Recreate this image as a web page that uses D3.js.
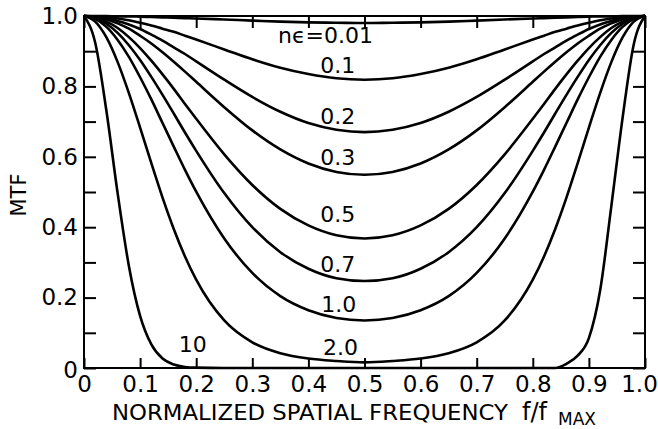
<!DOCTYPE html>
<html>
<head>
<meta charset="utf-8">
<script src="https://cdn.jsdelivr.net/npm/d3@7"></script>
<style>
    body { margin: 0; background: #fff; }
    svg { display: block; font-family: 'DejaVu Sans', sans-serif; }
    .axis line { stroke: #000; stroke-width: 2; }
    .axis path { display: none; }
</style>
</head>
<body>
<div id="chart"></div>
<script>
// normalized spatial frequency f/fmax, shared by every curve
var freq = [0, .02, .04, .06, .08, .10, .12, .14, .16, .18, .20, .25, .30, .35, .40, .45, .50,
            .55, .60, .65, .70, .75, .80, .82, .84, .86, .88, .90, .92, .94, .96, .98, 1];

// MTF, one list per n*epsilon
var mtf_001 = [1, 1, 1, .999, .999, .998, .997, .996, .995, .994, .993, .990, .987, .984, .982, .981, .980,
               .981, .982, .984, .987, .990, .993, .994, .995, .996, .997, .998, .999, .999, 1, 1, 1];
var mtf_01 = [1, .999, .997, .993, .988, .981, .973, .964, .955, .944, .933, .905, .877, .853, .835, .823, .819,
              .823, .835, .853, .877, .905, .933, .944, .955, .964, .973, .981, .988, .993, .997, .999, 1];
var mtf_02 = [1, .998, .994, .986, .976, .963, .947, .930, .911, .892, .871, .819, .770, .728, .696, .677, .670,
              .677, .696, .728, .770, .819, .871, .892, .911, .930, .947, .963, .976, .986, .994, .998, 1];
var mtf_03 = [1, .998, .991, .979, .964, .944, .922, .897, .870, .842, .813, .741, .675, .621, .581, .557, .549,
              .557, .581, .621, .675, .741, .813, .842, .870, .897, .922, .944, .964, .979, .991, .998, 1];
var mtf_05 = [1, .996, .984, .966, .940, .909, .873, .834, .793, .750, .708, .607, .520, .452, .405, .377, .368,
              .377, .405, .452, .520, .607, .708, .750, .793, .834, .873, .909, .940, .966, .984, .996, 1];
var mtf_07 = [1, .995, .978, .952, .917, .875, .827, .776, .723, .669, .617, .497, .400, .329, .282, .255, .247,
              .255, .282, .329, .400, .497, .617, .669, .723, .776, .827, .875, .917, .952, .978, .995, 1];
var mtf_10 = [1, .992, .969, .932, .884, .826, .763, .696, .629, .563, .501, .368, .270, .204, .164, .142, .135,
              .142, .164, .204, .270, .368, .501, .563, .629, .696, .763, .826, .884, .932, .969, .992, 1];
var mtf_20 = [1, .984, .939, .869, .781, .683, .582, .484, .395, .317, .251, .135, .073, .042, .027, .020, .016,
              .020, .027, .042, .073, .135, .251, .317, .395, .484, .582, .683, .781, .869, .939, .984, 1];
var mtf_100 = [1, .924, .730, .496, .290, .148, .067, .027, .010, .003, .001, 0, 0, 0, 0, 0, 0,
               0, 0, 0, 0, 0, 0, 0, 0, .012, .035, .085, .22, .46, .71, .92, 1];

var series = [mtf_001, mtf_01, mtf_02, mtf_03, mtf_05, mtf_07, mtf_10, mtf_20, mtf_100];
var curve_labels = ['n\u03f5=0.01', '0.1', '0.2', '0.3', '0.5', '0.7', '1.0', '2.0', '10'];

var x_ticks = d3.range(0, 11).map(i => i / 10);
var x_tick_labels = ['0', '0.1', '0.2', '0.3', '0.4', '0.5', '0.6', '0.7', '0.8', '0.9', '1.0'];
var y_tick_labels = ['0', '', '0.2', '', '0.4', '', '0.6', '', '0.8', '', '1.0'];

// where each curve label sits, in data units (f, MTF)
var label_pos = [[.346, .923], [.421, .838], [.421, .693], [.421, .577], [.421, .415],
                 [.421, .273], [.423, .159], [.426, .037], [.169, .045]];

var width = 658, height = 429;
var x = d3.scaleLinear().domain([0, 1]).range([84, 645]);
var y = d3.scaleLinear().domain([0, 1]).range([368, 16]);

var svg = d3.select('#chart').append('svg')
    .attr('width', width)
    .attr('height', height);

svg.append('rect')
    .attr('width', width)
    .attr('height', height)
    .attr('fill', '#fff');

function style_axis(g) {
    g.attr('font-family', "'DejaVu Sans', sans-serif")
        .attr('font-size', 23);
    g.selectAll('text').attr('fill', '#000');
}

// ticks all point inward
var xaxis = svg.append('g')
    .attr('class', 'axis')
    .attr('transform', 'translate(0,' + y(0) + ')')
    .call(d3.axisBottom(x).tickValues(x_ticks).tickSizeInner(-10).tickSizeOuter(0).tickPadding(8)
        .tickFormat((d, i) => x_tick_labels[i]))
    .call(style_axis);

// last label would run off the page
xaxis.selectAll('text')
    .filter(d => d === 1)
    .attr('dx', -6);

svg.append('g')
    .attr('class', 'axis')
    .attr('transform', 'translate(0,' + y(1) + ')')
    .call(d3.axisTop(x).tickValues(x_ticks).tickSizeInner(-12).tickSizeOuter(0).tickFormat(''));

var yaxis = svg.append('g')
    .attr('class', 'axis')
    .attr('transform', 'translate(' + x(0) + ',0)')
    .call(d3.axisLeft(y).tickValues(x_ticks).tickSizeInner(-12).tickSizeOuter(0).tickPadding(6)
        .tickFormat((d, i) => y_tick_labels[i]))
    .call(style_axis);

yaxis.selectAll('text')
    .filter(d => d === 0)
    .attr('dy', '0.42em');

svg.append('g')
    .attr('class', 'axis')
    .attr('transform', 'translate(' + x(1) + ',0)')
    .call(d3.axisRight(y).tickValues(x_ticks).tickSizeInner(-12).tickSizeOuter(0).tickFormat(''));

svg.append('rect')
    .attr('x', x(0))
    .attr('y', y(1))
    .attr('width', x(1) - x(0))
    .attr('height', y(0) - y(1))
    .attr('fill', 'none')
    .attr('stroke', '#000')
    .attr('stroke-width', 2);

var line = d3.line()
    .x((d, i) => x(freq[i]))
    .y(d => y(d))
    .curve(d3.curveMonotoneX);

svg.append('g')
    .selectAll('path')
    .data(series)
    .join('path')
        .attr('d', line)
        .attr('fill', 'none')
        .attr('stroke', '#000')
        .attr('stroke-width', 2.6)
        .attr('stroke-linejoin', 'round');

svg.append('g')
    .selectAll('text')
    .data(curve_labels)
    .join('text')
        .attr('x', (d, i) => x(label_pos[i][0]))
        .attr('y', (d, i) => y(label_pos[i][1]))
        .attr('font-size', 22)
        .text(d => d);

svg.append('text')
    .attr('transform', 'translate(26,195) rotate(-90)')
    .attr('text-anchor', 'middle')
    .attr('font-size', 21)
    .text('MTF');

// x title, one text so the subscript stays with it
var xtitle = svg.append('text')
    .attr('y', 420)
    .attr('font-size', 22);

xtitle.append('tspan')
    .attr('x', 112)
    .attr('textLength', 396)
    .attr('lengthAdjust', 'spacingAndGlyphs')
    .text('NORMALIZED SPATIAL FREQUENCY');

xtitle.append('tspan')
    .attr('x', 522)
    .attr('font-size', 24)
    .text('f/f');

xtitle.append('tspan')
    .attr('x', 558)
    .attr('dy', 5)
    .attr('font-size', 17)
    .text('MAX');
</script>
</body>
</html>
